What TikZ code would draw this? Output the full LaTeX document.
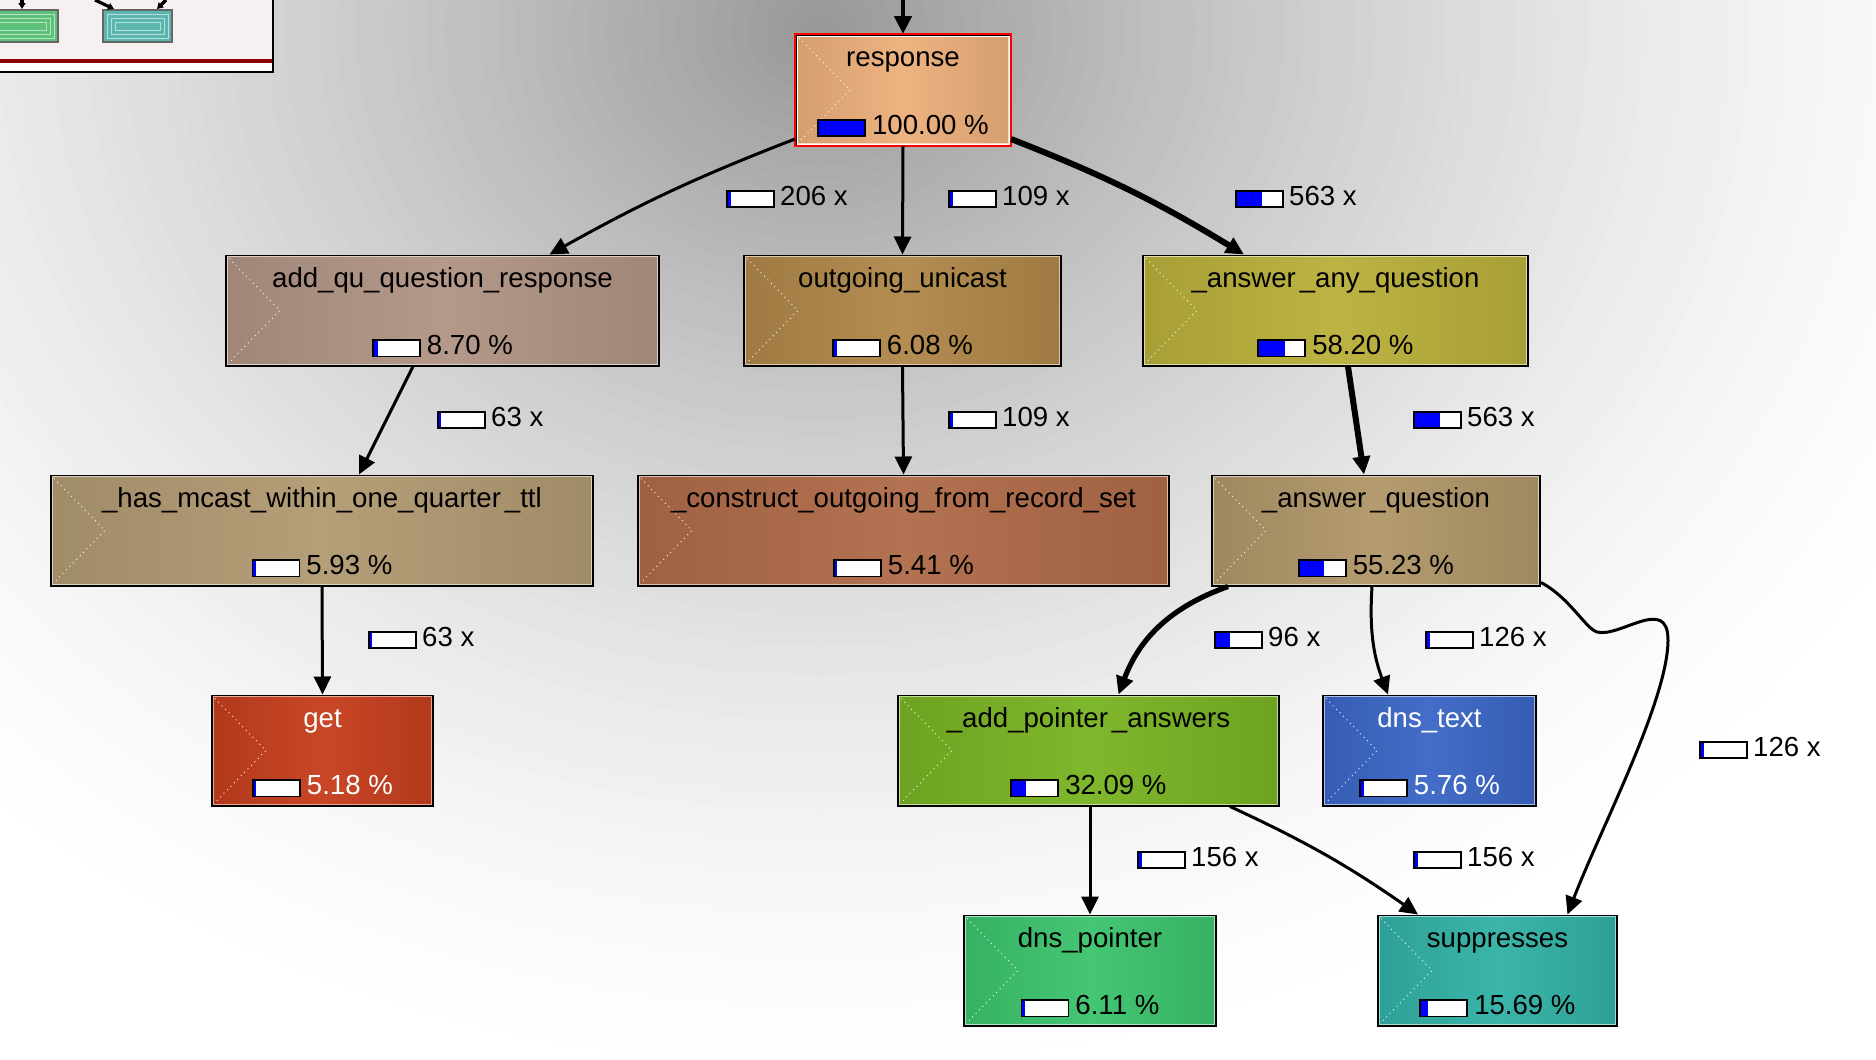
\documentclass[tikz,border=0pt]{standalone}
\usepackage{fontspec}
\setmainfont{Liberation Sans}
\usepackage{xcolor}
\usetikzlibrary{arrows.meta,calc}
\definecolor{respC}{HTML}{EDB07C}
\definecolor{addquC}{HTML}{B19585}
\definecolor{outuniC}{HTML}{B0884A}
\definecolor{anyqC}{HTML}{BAB03C}
\definecolor{hasmC}{HTML}{B29B73}
\definecolor{constrC}{HTML}{B06C4A}
\definecolor{ansqC}{HTML}{B1976A}
\definecolor{getC}{HTML}{C63F1E}
\definecolor{addptrC}{HTML}{7AB424}
\definecolor{dnstextC}{HTML}{3B67C6}
\definecolor{dnsptrC}{HTML}{3DC46E}
\definecolor{suppC}{HTML}{33B2A6}
\definecolor{mapbg}{HTML}{F6F0F0}
\definecolor{mapred}{HTML}{8B0000}
\definecolor{mapgreen}{HTML}{5CC27A}
\definecolor{mapteal}{HTML}{5BB7AE}
% little share bar: #1 = blue part in pt (of 22.6pt)
\newcommand{\pbar}[1]{\raisebox{-0.5pt}{\setlength{\fboxsep}{0pt}\setlength{\fboxrule}{0.9pt}\fcolorbox{black}{white}{\makebox[22.6pt][l]{\textcolor{blue}{\rule{#1pt}{7.2pt}}}}}}
\tikzset{
  fnode/.style={draw=black,line width=1pt,minimum height=55pt,inner sep=0pt},
  ntext/.style={font=\fontsize{13.8}{16}\selectfont,inner sep=0pt},
  elabel/.style={font=\fontsize{13.8}{16}\selectfont,inner sep=0pt,anchor=base west},
  calledge/.style={-{Triangle[length=9pt,width=8.5pt]},line width=1.5pt},
  hotedge/.style={calledge,line width=3pt}
}
\begin{document}
\begin{tikzpicture}[x=0.5pt,y=-0.5pt]
  \useasboundingbox (0,0) rectangle (1876,1060);
  \fill[white] (0,0) rectangle (1876,1060);
  % grey glow behind the root
  \begin{scope}
    \clip (0,0) rectangle (1876,1060);
    \foreach \k in {0,...,69} {
      \pgfmathsetmacro\g{40*((\k+1)/70)^1.5}
      \fill[black!\g] (820,30) ellipse [x radius={1250*(1-\k/70)},y radius={1050*(1-\k/70)}];
    }
  \end{scope}

  % overview map
  \fill[mapbg] (0,0) rectangle (273,72);
  \fill[white] (0,63) rectangle (273,72);
  \fill[mapred] (0,59) rectangle (273,63);
  \draw[line width=1pt] (273,0) -- (273,72) -- (0,72);
  \filldraw[fill=mapgreen,draw=black!60,line width=0.6pt] (-2,10) rectangle (58,42);
  \filldraw[fill=mapteal,draw=black!60,line width=0.6pt] (103,10) rectangle (172,42);
  \foreach \i in {4,8,12} {
    \draw[mapgreen!45!white,line width=0.4pt] (-2,{10+\i}) rectangle ({58-\i},{42-\i});
    \draw[mapteal!45!white,line width=0.4pt] ({103+\i},{10+\i}) rectangle ({172-\i},{42-\i});
  }
  \foreach \a/\b in {22/22,95/114,166/157}
    \draw[line width=1.6pt,-{Triangle[length=3pt,width=3.5pt]}] (\a,0) -- (\b,9);

  % functions
  \foreach \n/\x/\y/\w/\col/\tcol/\ttl/\pct/\fr in {
    resp/903/90/214/respC/black/response/100.00/22.6,
    addqu/442.5/310.5/433/addquC/black/add\_qu\_question\_response/8.70/1.9,
    outuni/902.5/310.5/317/outuniC/black/outgoing\_unicast/6.08/1.3,
    anyq/1335.5/310.5/385/anyqC/black/\_answer\kern2pt\_any\_question/58.20/12.8,
    hasm/322/530.5/542/hasmC/black/\_has\_mcast\_within\_one\_quarter\kern2pt\_ttl/5.93/1.3,
    constr/903.5/530.5/531/constrC/black/\_construct\_outgoing\_from\_record\_set/5.41/1.2,
    ansq/1376/530.5/328/ansqC/black/\_answer\kern2pt\_question/55.23/12.2,
    get/322.5/750.5/221/getC/white/get/5.18/1.2,
    addptr/1088.5/750.5/381/addptrC/black/\_add\_pointer\kern2pt\_answers/32.09/7.1,
    dnstext/1429.5/750.5/213/dnstextC/white/dns\_text/5.76/1.3,
    dnsptr/1090/970.5/252/dnsptrC/black/dns\_pointer/6.11/1.3,
    supp/1497.5/970.5/239/suppC/black/suppresses/15.69/3.5} {
    \node[fnode,minimum width=\w*0.5pt,left color=\col!90!black,right color=\col!90!black,
      middle color=\col!96!white] (\n) at (\x,\y) {};
    \draw[\col!45!white,line width=0.5pt] ([shift={(1.2pt,-1.2pt)}]\n.north west)
      rectangle ([shift={(-1.2pt,1.2pt)}]\n.south east);
    \draw[white,dotted,line width=0.45pt] ([shift={(2pt,-2pt)}]\n.north west)
      -- ([xshift=27.5pt]\n.west) -- ([shift={(2pt,2pt)}]\n.south west);
    \node[ntext,text=\tcol,anchor=base] (\n-t) at ([yshift=-16.3pt]\n.north) {\ttl};
    \node[ntext,text=\tcol,anchor=base] (\n-p) at ([yshift=6pt]\n.south)
      {\pbar{\fr}\hspace{3pt}\pct\ \%};
  }
  \draw[red,line width=1.2pt] (resp.north west) rectangle (resp.south east);
  \draw[white,line width=0.4pt] ([shift={(1pt,-1pt)}]resp.north west)
    rectangle ([shift={(-1pt,1pt)}]resp.south east);

  % calls
  \coordinate (caller) at (903,0);
  \draw[calledge,line width=2.2pt] (caller) -- (resp.north);
  \draw[calledge] ([yshift=3.5pt]resp.south west) to[bend right=4] ([xshift=53.5pt]addqu.north);
  \draw[calledge] (resp.south) -- (outuni.north);
  \draw[hotedge] ([yshift=3.5pt]resp.south east) to[bend left=5] ([xshift=-45.75pt]anyq.north);
  \draw[calledge] ([xshift=-14.75pt]addqu.south) -- ([xshift=18.5pt]hasm.north);
  \draw[calledge] (outuni.south) -- (constr.north);
  \draw[hotedge] ([xshift=6.25pt]anyq.south) -- ([xshift=-6pt]ansq.north);
  \draw[calledge] (hasm.south) -- (get.north);
  \draw[calledge,line width=2.6pt] ([xshift=8.5pt]ansq.south west) to[bend right=25] ([xshift=15pt]addptr.north);
  \draw[calledge] ([xshift=-2pt]ansq.south) to[bend right=12] ([xshift=-20.75pt]dnstext.north);
  \draw[calledge] ([yshift=2pt]ansq.south east) .. controls (1570,598) and (1585,628) .. (1597,632)
    .. controls (1620,638) and (1668,595) .. (1668,640)
    .. controls (1668,700) and (1600,830) .. ([xshift=35pt]supp.north);
  \draw[calledge] (addptr.south -| dnsptr.north) -- (dnsptr.north);
  \draw[calledge] ([xshift=-25pt]addptr.south east) to[bend left=5] ([xshift=-39.75pt]supp.north);

  % call counts
  \foreach \n/\x/\y/\fr/\v in {
    c1/726/197/1.5/206, c2/948/197/1.2/109, c3/1235/197/12.4/563,
    c4/437/418/1/63, c5/948/418/1.2/109, c6/1413/418/12.4/563,
    c7/368/638/1/63, c8/1214/638/7/96, c9/1425/638/1.2/126,
    c10/1699/748/1.2/126, c11/1137/858/1.2/156, c12/1413/858/1.2/156}
    \node[elabel] (\n) at (\x,{\y+8}) {\pbar{\fr}\hspace{2.5pt}\v\ x};
\end{tikzpicture}
\end{document}
